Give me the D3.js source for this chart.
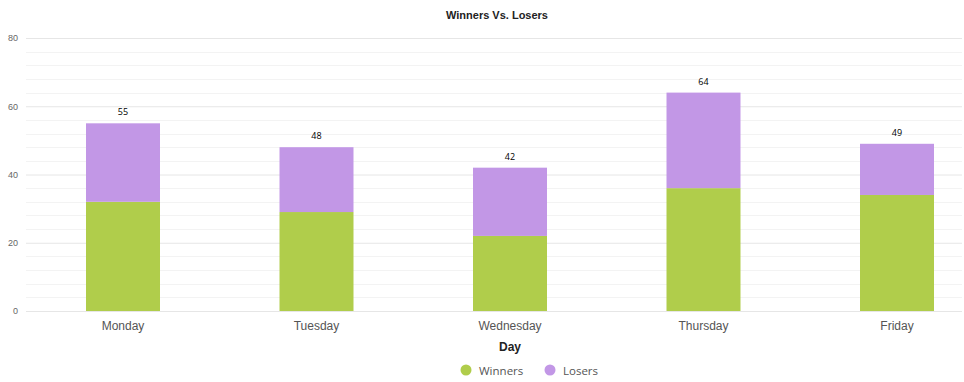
<!DOCTYPE html>
<html>
<head>
<meta charset="utf-8">
<script src="https://cdn.jsdelivr.net/npm/d3@7"></script>
<style>
  html, body { margin: 0; padding: 0; background: #fff; }
  svg { display: block; }
</style>
</head>
<body>
<svg id="chart" width="964" height="382"></svg>
<script>
const days = ["Monday", "Tuesday", "Wednesday", "Thursday", "Friday"];
const winners = [32, 29, 22, 36, 34];
const losers = [23, 19, 20, 28, 15];
const seriesNames = ["Winners", "Losers"];
const seriesColors = ["#b0cd4b", "#c297e6"];
const yTicks = [0, 20, 40, 60, 80];
const yMinorTicks = d3.range(0, 81, 4);

const svg = d3.select("#chart");
const plotLeft = 26, plotRight = 962, plotTop = 38, plotBottom = 311;

const x = d3.scaleBand()
  .domain(days)
  .range([26.25, 993.75])
  .paddingInner(0.6176)
  .paddingOuter(0.3088);

const y = d3.scaleLinear().domain([0, 80]).range([plotBottom, plotTop]);

// Title
svg.append("text")
  .attr("x", 497).attr("y", 19)
  .attr("text-anchor", "middle")
  .style("font-family", "'Liberation Sans', Arial, sans-serif")
  .style("font-size", "11px").style("font-weight", "bold")
  .style("fill", "#222")
  .text("Winners Vs. Losers");

// Minor grid
svg.append("g").selectAll("line")
  .data(yMinorTicks.filter(t => t % 20 !== 0))
  .join("line")
  .attr("x1", plotLeft).attr("x2", plotRight)
  .attr("y1", d => Math.round(y(d)) + 0.5).attr("y2", d => Math.round(y(d)) + 0.5)
  .attr("stroke", "#f3f3f3").attr("stroke-width", 1);

// Y axis with major grid
const yAxis = d3.axisLeft(y).tickValues(yTicks).tickSize(-(plotRight - plotLeft)).tickPadding(8);
const yg = svg.append("g").attr("transform", `translate(${plotLeft},0)`).call(yAxis);
yg.select(".domain").remove();
yg.selectAll(".tick line").attr("stroke", "#e6e6e6");
yg.selectAll(".tick text")
  .style("font-family", "'Liberation Sans', Arial, sans-serif")
  .style("font-size", "9px").style("fill", "#666");

// Stacked bars
const rows = days.map((d, i) => ({ day: d, Winners: winners[i], Losers: losers[i] }));
const stack = d3.stack().keys(seriesNames)(rows);
const color = d3.scaleOrdinal().domain(seriesNames).range(seriesColors);

svg.append("g").selectAll("g")
  .data(stack)
  .join("g")
  .attr("fill", d => color(d.key))
  .selectAll("rect")
  .data(d => d)
  .join("rect")
  .attr("x", d => x(d.data.day))
  .attr("width", x.bandwidth())
  .attr("y", d => y(d[1]))
  .attr("height", d => y(d[0]) - y(d[1]));

// Total labels
svg.append("g").selectAll("text")
  .data(rows)
  .join("text")
  .attr("x", d => x(d.day) + x.bandwidth() / 2)
  .attr("y", d => y(d.Winners + d.Losers) - 8)
  .attr("text-anchor", "middle")
  .style("font-family", "'Open Sans', 'Noto Sans', sans-serif")
  .style("font-size", "9px").style("fill", "#000")
  .text(d => d.Winners + d.Losers);

// X axis labels
const xAxis = d3.axisBottom(x).tickSize(0).tickPadding(10);
const xg = svg.append("g").attr("transform", `translate(0,${plotBottom})`).call(xAxis);
xg.select(".domain").remove();
xg.selectAll(".tick text")
  .style("font-family", "'Liberation Sans', Arial, sans-serif")
  .style("font-size", "12px").style("fill", "#555");

// X axis title
svg.append("text")
  .attr("x", 510).attr("y", 351)
  .attr("text-anchor", "middle")
  .style("font-family", "'Liberation Sans', Arial, sans-serif")
  .style("font-size", "12px").style("font-weight", "bold")
  .style("fill", "#222")
  .text("Day");

// Legend
const legendX = [466, 550];
const lg = svg.append("g").selectAll("g")
  .data(seriesNames)
  .join("g")
  .attr("transform", (d, i) => `translate(${legendX[i]},370)`);
lg.append("circle").attr("r", 5.5).attr("fill", d => color(d));
lg.append("text")
  .attr("x", 13).attr("y", 4.5)
  .style("font-family", "'Open Sans', 'Noto Sans', sans-serif")
  .style("font-size", "11.5px").style("fill", "#555")
  .text(d => d);
</script>
</body>
</html>
